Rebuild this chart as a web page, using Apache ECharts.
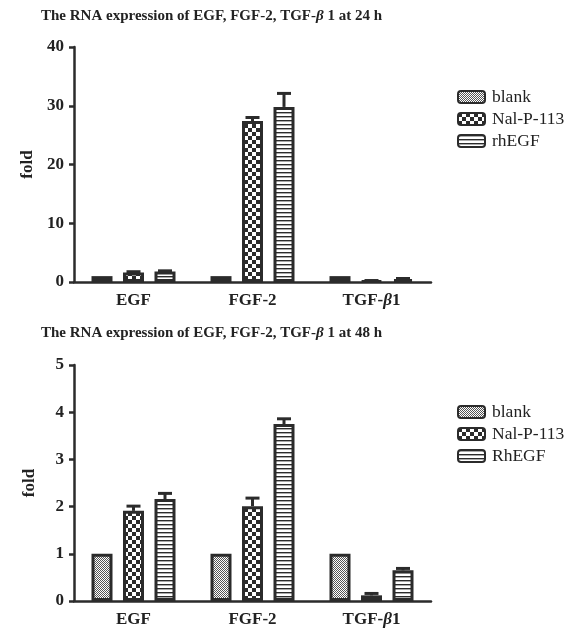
<!DOCTYPE html>
<html>
<head>
<meta charset="utf-8">
<script src="https://cdn.jsdelivr.net/npm/echarts@6/dist/echarts.min.js"></script>
<style>html,body{margin:0;padding:0;background:#fff;}#c{width:580px;height:639px;}</style>
</head>
<body>
<div id="c"></div>
<script>
// ---- data ----
const categories = ['EGF', 'FGF-2', 'TGF-β1'];
const seriesNames24 = ['blank', 'Nal-P-113', 'rhEGF'];
const seriesNames48 = ['blank', 'Nal-P-113', 'RhEGF'];

const blank24 = [1.0, 1.0, 1.0];
const nal24 = [1.6, 27.4, 0.2];
const rh24 = [1.8, 29.8, 0.5];
const blank24Err = [0, 0, 0];
const nal24Err = [0.15, 0.6, 0.05];
const rh24Err = [0.1, 2.3, 0.1];

const blank48 = [1.0, 1.0, 1.0];
const nal48 = [1.91, 2.01, 0.12];
const rh48 = [2.16, 3.75, 0.65];
const blank48Err = [0, 0, 0];
const nal48Err = [0.1, 0.17, 0.04];
const rh48Err = [0.12, 0.11, 0.04];

const yTicks24 = { min: 0, max: 40, interval: 10 };
const yTicks48 = { min: 0, max: 5, interval: 1 };

// ---- styles ----
const INK = '#2b2b2b';
const SERIF = '"Liberation Serif", "DejaVu Serif", serif';
const BAR_W = 21;
const BAR_GAP = 0.5;
const SPACING = BAR_W * (1 + BAR_GAP);

function makePattern(kind) {
  const c = document.createElement('canvas');
  const ctx = c.getContext('2d');
  if (kind === 'fine') {
    c.width = 2; c.height = 2;
    ctx.fillStyle = '#fff'; ctx.fillRect(0, 0, 2, 2);
    ctx.fillStyle = '#555'; ctx.fillRect(0, 0, 1, 1); ctx.fillRect(1, 1, 1, 1);
  } else if (kind === 'checker') {
    c.width = 8; c.height = 8;
    ctx.fillStyle = '#fff'; ctx.fillRect(0, 0, 8, 8);
    ctx.fillStyle = INK; ctx.fillRect(0, 0, 4, 4); ctx.fillRect(4, 4, 4, 4);
  } else {
    c.width = 4; c.height = 4;
    ctx.fillStyle = '#fff'; ctx.fillRect(0, 0, 4, 4);
    ctx.fillStyle = INK; ctx.fillRect(0, 0, 4, 1.4);
  }
  return { image: c, repeat: 'repeat' };
}
const patterns = [makePattern('fine'), makePattern('checker'), makePattern('stripes')];

function tgfRich(v) {
  if (v.indexOf('β') >= 0) {
    const p = v.split('β');
    return p[0] + '{b|β}' + p[1];
  }
  return v;
}
const labelStyle = { fontFamily: SERIF, fontWeight: 'bold', fontSize: 17, color: '#222' };

function makeXAxis(gi) {
  return {
    type: 'category', gridIndex: gi, data: categories,
    axisLine: { lineStyle: { color: INK, width: 2.5 } },
    axisTick: { alignWithLabel: true, length: 6, lineStyle: { color: INK, width: 2.5 } },
    axisLabel: Object.assign({ margin: 10, formatter: tgfRich,
      rich: { b: Object.assign({}, labelStyle, { fontStyle: 'italic' }) } }, labelStyle)
  };
}
function makeYAxis(gi, t) {
  return {
    type: 'value', gridIndex: gi, min: t.min, max: t.max, interval: t.interval,
    name: 'fold', nameLocation: 'middle', nameGap: 36,
    nameTextStyle: Object.assign({}, labelStyle),
    axisLine: { show: true, lineStyle: { color: INK, width: 2.5 } },
    axisTick: { show: true, length: 5, lineStyle: { color: INK, width: 2.5 } },
    axisLabel: Object.assign({ margin: 10 }, labelStyle),
    splitLine: { show: false }
  };
}

function barSeries(name, data, idx, gi) {
  return {
    type: 'bar', name: name, data: data, xAxisIndex: gi, yAxisIndex: gi,
    barWidth: BAR_W, barGap: (BAR_GAP * 100) + '%',
    itemStyle: { color: patterns[idx], borderColor: INK, borderWidth: 3 },
    z: 2
  };
}
function errSeries(values, errs, idx, gi) {
  const off = (idx - 1) * SPACING;
  return {
    type: 'custom', xAxisIndex: gi, yAxisIndex: gi, z: 5, silent: true,
    data: values.map((v, i) => [i, v, errs[i]]),
    renderItem: function (params, api) {
      const err = api.value(2);
      if (!err) return null;
      const base = api.coord([api.value(0), api.value(1)]);
      const top = api.coord([api.value(0), api.value(1) + err]);
      const x = base[0] + off;
      const st = { stroke: INK, lineWidth: 3 };
      return {
        type: 'group', children: [
          { type: 'line', shape: { x1: x, y1: base[1], x2: x, y2: top[1] }, style: st },
          { type: 'line', shape: { x1: x - 7, y1: top[1], x2: x + 7, y2: top[1] }, style: st }
        ]
      };
    }
  };
}

const chart = echarts.init(document.getElementById('c'), null, { renderer: 'canvas' });
const titleStyle = { fontFamily: SERIF, fontWeight: 'bold', fontSize: 15, color: '#222',
  rich: { b: { fontFamily: SERIF, fontWeight: 'bold', fontStyle: 'italic', fontSize: 15, color: '#222' } } };

const legendBase = {
  orient: 'vertical', left: 452, icon: 'roundRect', itemWidth: 27, itemHeight: 12, itemGap: 4,
  textStyle: { fontFamily: SERIF, fontSize: 17.5, color: '#222', padding: [0, 0, 0, 2] }
};

chart.setOption({
  backgroundColor: '#fff',
  animation: false,
  title: [
    { text: 'The RNA expression of EGF, FGF-2, TGF-{b|β} 1 at 24 h', left: 36, top: 4, textStyle: titleStyle },
    { text: 'The RNA expression of EGF, FGF-2, TGF-{b|β} 1 at 48 h', left: 36, top: 321, textStyle: titleStyle }
  ],
  legend: [
    Object.assign({ top: 83, data: seriesNames24 }, legendBase),
    Object.assign({ top: 398, data: seriesNames48 }, legendBase)
  ],
  grid: [
    { left: 74, top: 47, width: 357, height: 235 },
    { left: 74, top: 365, width: 357, height: 236 }
  ],
  xAxis: [makeXAxis(0), makeXAxis(1)],
  yAxis: [makeYAxis(0, yTicks24), makeYAxis(1, yTicks48)],
  series: [
    barSeries(seriesNames24[0], blank24, 0, 0),
    barSeries(seriesNames24[1], nal24, 1, 0),
    barSeries(seriesNames24[2], rh24, 2, 0),
    errSeries(blank24, blank24Err, 0, 0),
    errSeries(nal24, nal24Err, 1, 0),
    errSeries(rh24, rh24Err, 2, 0),
    barSeries(seriesNames48[0], blank48, 0, 1),
    barSeries(seriesNames48[1], nal48, 1, 1),
    barSeries(seriesNames48[2], rh48, 2, 1),
    errSeries(blank48, blank48Err, 0, 1),
    errSeries(nal48, nal48Err, 1, 1),
    errSeries(rh48, rh48Err, 2, 1)
  ]
});
</script>
</body>
</html>
